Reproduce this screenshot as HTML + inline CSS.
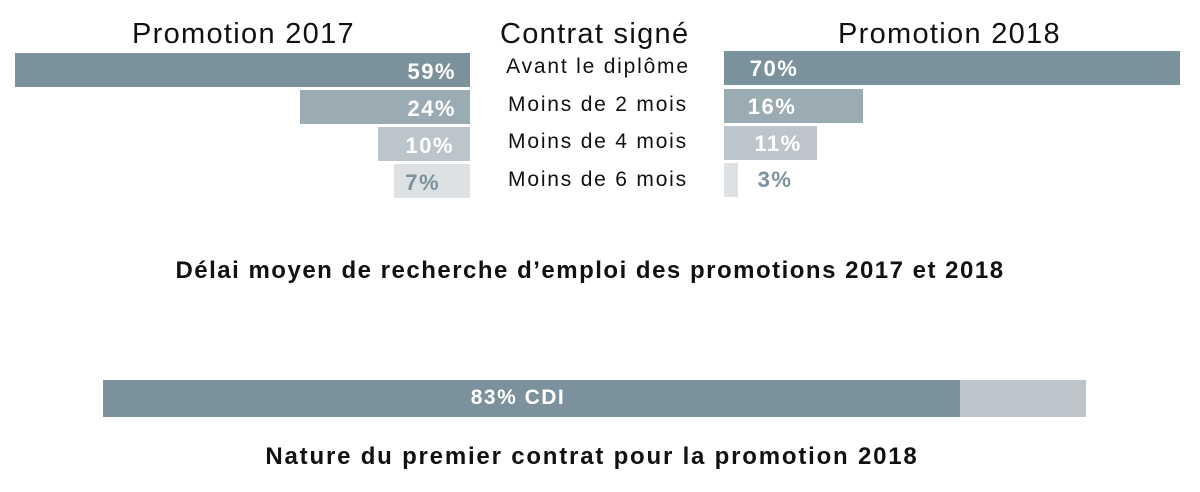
<!DOCTYPE html>
<html><head><meta charset="utf-8"><style>
body{margin:0;width:1200px;height:492px;background:#fff;position:relative;overflow:hidden;font-family:"Liberation Sans",sans-serif;color:#111}
div{position:absolute;box-sizing:border-box}
.h{font-size:29px;top:17px;line-height:34px;letter-spacing:1.3px}
.b{height:34px}
.n{font-weight:bold;color:#fff;font-size:22px;line-height:34px;letter-spacing:1.5px}
.l{font-size:21px;line-height:34px;width:300px;left:448px;text-align:center;letter-spacing:1.8px}
.c1{background:#7b929c}.c2{background:#9aabb3}.c3{background:#bcc5cb}.c4{background:#dde1e4}
</style></head><body>
<div class="h" style="left:132px">Promotion 2017</div>
<div class="h" style="left:500px">Contrat signé</div>
<div class="h" style="left:838px">Promotion 2018</div>

<div class="b c1" style="left:15px;width:455px;top:53px"></div>
<div class="b c2" style="left:300px;width:170px;top:90px"></div>
<div class="b c3" style="left:378px;width:92px;top:127px"></div>
<div class="b c4" style="left:394px;width:76px;top:164px"></div>
<div class="n" style="right:744px;top:55px">59%</div>
<div class="n" style="right:744px;top:92px">24%</div>
<div class="n" style="right:746px;top:129px">10%</div>
<div class="n" style="right:760px;top:166px;color:#7b929c">7%</div>

<div class="l" style="top:50px">Avant le diplôme</div>
<div class="l" style="top:88px">Moins de 2 mois</div>
<div class="l" style="top:125px">Moins de 4 mois</div>
<div class="l" style="top:163px">Moins de 6 mois</div>

<div class="b c1" style="left:724px;width:456px;top:51px"></div>
<div class="b c2" style="left:724px;width:139px;top:89px"></div>
<div class="b c3" style="left:724px;width:93px;top:126px"></div>
<div class="b c4" style="left:724px;width:14px;top:163px"></div>
<div class="n" style="left:734px;width:80px;text-align:center;top:52px">70%</div>
<div class="n" style="left:732px;width:80px;text-align:center;top:90px">16%</div>
<div class="n" style="left:738px;width:80px;text-align:center;top:127px">11%</div>
<div class="n" style="left:740px;width:70px;text-align:center;top:163px;color:#7b929c">3%</div>

<div style="left:0;width:1180px;text-align:center;top:254px;font-size:24px;font-weight:bold;line-height:34px;letter-spacing:1.5px">Délai moyen de recherche d’emploi des promotions 2017 et 2018</div>

<div class="c3" style="left:103px;width:983px;top:380px;height:37px"></div>
<div class="c1" style="left:103px;width:857px;top:380px;height:37px"></div>
<div class="n" style="left:103px;width:830px;text-align:center;top:381px;font-size:21px">83% CDI</div>

<div style="left:0;width:1184px;text-align:center;top:440px;font-size:24px;font-weight:bold;line-height:34px;letter-spacing:1.8px">Nature du premier contrat pour la promotion 2018</div>
</body></html>
